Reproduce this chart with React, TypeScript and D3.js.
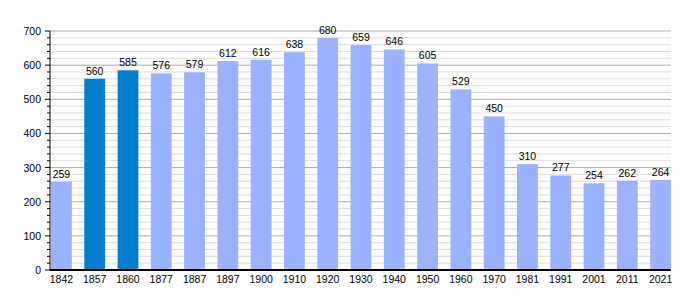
import * as d3 from 'd3';

const years = ['1842', '1857', '1860', '1877', '1887', '1897', '1900', '1910', '1920', '1930', '1940', '1950', '1960', '1970', '1981', '1991', '2001', '2011', '2021'];
const population = [259, 560, 585, 576, 579, 612, 616, 638, 680, 659, 646, 605, 529, 450, 310, 277, 254, 262, 264];
const highlighted = ['1857', '1860'];
const yTicks = [0, 100, 200, 300, 400, 500, 600, 700];

const width = 700;
const height = 300;
const margin = { top: 31, right: 29, bottom: 30, left: 50 };

export default function App() {
  const innerW = width - margin.left - margin.right;
  const innerH = height - margin.top - margin.bottom;

  const x = d3.scaleBand().domain(years).range([1, innerW]).paddingInner(0.375).paddingOuter(0);
  const y = d3.scaleLinear().domain([0, 700]).range([innerH, 0]);
  const minor = d3.range(0, 701, 20);

  return (
    <svg width={width} height={height} style={{ position: 'absolute', left: 0, top: 0, fontFamily: 'Liberation Sans, Arial, sans-serif' }}>
      <g transform={`translate(${margin.left},${margin.top})`}>
        {minor.filter((v) => v % 100 !== 0).map((v) => (
          <line key={'m' + v} x1={0} x2={innerW} y1={y(v)} y2={y(v)} stroke="#dddddd" strokeWidth={1} />
        ))}
        {yTicks.filter((v) => v > 0).map((v) => (
          <line key={'g' + v} x1={0} x2={innerW} y1={y(v)} y2={y(v)} stroke="#aaaaaa" strokeWidth={1} />
        ))}
        {years.map((yr, i) => (
          <g key={yr}>
            <rect
              x={x(yr)!}
              y={y(population[i])}
              width={x.bandwidth()}
              height={innerH - y(population[i])}
              fill={highlighted.includes(yr) ? '#0080cc' : '#99b3ff'}
            />
            <text x={x(yr)! + x.bandwidth() / 2} y={y(population[i]) - 4} textAnchor="middle" fontSize={10.5} fill="#000">
              {population[i]}
            </text>
            <text x={x(yr)! + x.bandwidth() / 2} y={innerH + 13} textAnchor="middle" fontSize={10.5} fill="#000">
              {yr}
            </text>
          </g>
        ))}
        {minor.map((v) => (
          <line key={'t' + v} x1={v % 100 === 0 ? -5 : -3} x2={0} y1={y(v)} y2={y(v)} stroke="#000" strokeWidth={1} />
        ))}
        {yTicks.map((v) => (
          <text key={'l' + v} x={-9} y={y(v) + 4} textAnchor="end" fontSize={10.5} fill="#000">
            {v}
          </text>
        ))}
        <line x1={0} x2={0} y1={0} y2={innerH} stroke="#000" strokeWidth={1} />
        <line x1={0} x2={innerW} y1={innerH} y2={innerH} stroke="#000" strokeWidth={2} />
      </g>
    </svg>
  );
}
